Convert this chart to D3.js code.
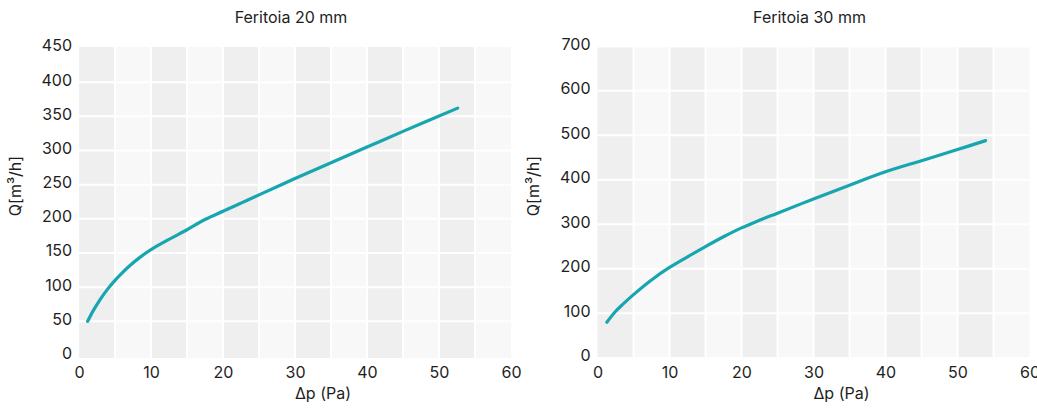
<!DOCTYPE html>
<html>
<head>
<meta charset="utf-8">
<script src="https://cdn.jsdelivr.net/npm/d3@7"></script>
<style>
  body { margin: 0; background: #fff; }
  svg { display: block; font-family: Inter, "Liberation Sans", Arial, sans-serif; }
</style>
</head>
<body>
<svg id="chart" width="1037" height="408"></svg>
<script>
// ---- data ----
const titles = ["Feritoia 20 mm", "Feritoia 30 mm"];
const xLabel = "Δp (Pa)";
const yLabel = "Q[m³/h]";
const xTicks = [0, 10, 20, 30, 40, 50, 60];
const bandEdges = [0, 5, 10, 15, 20, 25, 30, 35, 40, 45, 50, 55, 60];

const yTicks20 = [0, 50, 100, 150, 200, 250, 300, 350, 400, 450];
const dp20 = [1.2, 2, 3, 4, 5, 6, 7, 8.5, 10, 12.5, 15, 17.5, 20, 22.5, 25, 30, 35, 40, 45, 52.6];
const q20  = [50, 66, 83, 97.5, 110, 121, 131, 144, 155, 170, 184, 199, 211, 223, 235, 259, 282, 305, 328, 362];

const yTicks30 = [0, 100, 200, 300, 400, 500, 600, 700];
const dp30 = [1.3, 2.5, 3.5, 5, 7.5, 10, 12.5, 15, 17.5, 20, 22.5, 25, 30, 35, 40, 45, 50, 53.9];
const q30  = [80, 104, 120, 142, 175, 203, 227, 250, 272, 292, 309, 325, 357, 388, 418, 443, 468, 488];

// ---- layout (positions / styles only) ----
const panels = [
  { title: titles[0], xs: dp20, ys: q20, yTicks: yTicks20, yMax: 450,
    left: 79, right: 511, y0: 355.5, y1: 48, bgTop: 47, bgBottom: 358 },
  { title: titles[1], xs: dp30, ys: q30, yTicks: yTicks30, yMax: 700,
    left: 597.5, right: 1029.5, y0: 357.8, y1: 46.3, bgTop: 47.5, bgBottom: 357 }
];

const svg = d3.select("#chart");
const textColor = "#1e1e1e";

panels.forEach(p => {
  const x = d3.scaleLinear().domain([0, 60]).range([p.left, p.right]);
  const y = d3.scaleLinear().domain([0, p.yMax]).range([p.y0, p.y1]);
  const g = svg.append("g");

  // alternating vertical bands
  const bands = d3.pairs(bandEdges);
  g.selectAll("rect.band").data(bands).join("rect")
    .attr("class", "band")
    .attr("x", d => x(d[0]))
    .attr("width", d => x(d[1]) - x(d[0]))
    .attr("y", p.bgTop)
    .attr("height", p.bgBottom - p.bgTop)
    .attr("fill", (d, i) => i % 2 === 0 ? "#efefef" : "#f8f8f8");

  // vertical white grid lines
  g.selectAll("line.vg").data(bandEdges.slice(1, -1)).join("line")
    .attr("x1", d => x(d)).attr("x2", d => x(d))
    .attr("y1", p.bgTop).attr("y2", p.bgBottom)
    .attr("stroke", "#fff").attr("stroke-width", 2);

  // horizontal white grid lines
  g.selectAll("line.hg").data(p.yTicks.slice(1, -1)).join("line")
    .attr("x1", p.left).attr("x2", p.right)
    .attr("y1", d => y(d)).attr("y2", d => y(d))
    .attr("stroke", "#fff").attr("stroke-width", 2);

  // y axis (labels only)
  const yAxis = d3.axisLeft(y).tickValues(p.yTicks).tickSize(0).tickPadding(7);
  const ya = g.append("g").attr("transform", `translate(${p.left},0)`).call(yAxis);
  ya.select(".domain").remove();
  ya.selectAll("text").attr("font-size", 16).attr("fill", textColor)
    .attr("font-family", "Inter, 'Liberation Sans', sans-serif")
    .attr("dy", "0.18em");

  // x axis (labels only)
  const xAxis = d3.axisBottom(x).tickValues(xTicks).tickSize(0).tickPadding(0);
  const xa = g.append("g").attr("transform", `translate(0,${p.bgBottom})`).call(xAxis);
  xa.select(".domain").remove();
  xa.selectAll("text").attr("font-size", 16).attr("fill", textColor)
    .attr("font-family", "Inter, 'Liberation Sans', sans-serif")
    .attr("dy", null).attr("y", 377.5 - p.bgBottom);

  // the curve
  const line = d3.line()
    .x((d, i) => x(p.xs[i]))
    .y((d, i) => y(p.ys[i]))
    .curve(d3.curveCatmullRom.alpha(0.5));
  g.append("path").datum(p.ys)
    .attr("d", line)
    .attr("fill", "none")
    .attr("stroke", "#17a6b0")
    .attr("stroke-width", 3.2)
    .attr("stroke-linecap", "round")
    .attr("stroke-linejoin", "round");

  // chart title
  g.append("text")
    .attr("x", p.left + 212).attr("y", 22.5)
    .attr("text-anchor", "middle")
    .attr("font-size", 16).attr("fill", textColor)
    .text(p.title);

  // x axis title
  g.append("text")
    .attr("x", p.left + 244).attr("y", 398.5)
    .attr("text-anchor", "middle")
    .attr("font-size", 16).attr("fill", textColor)
    .text(xLabel);

  // y axis title
  g.append("text")
    .attr("transform", `translate(${p.left - 58.5},186) rotate(-90)`)
    .attr("text-anchor", "middle")
    .attr("font-size", 16).attr("fill", textColor)
    .text(yLabel);
});
</script>
</body>
</html>
